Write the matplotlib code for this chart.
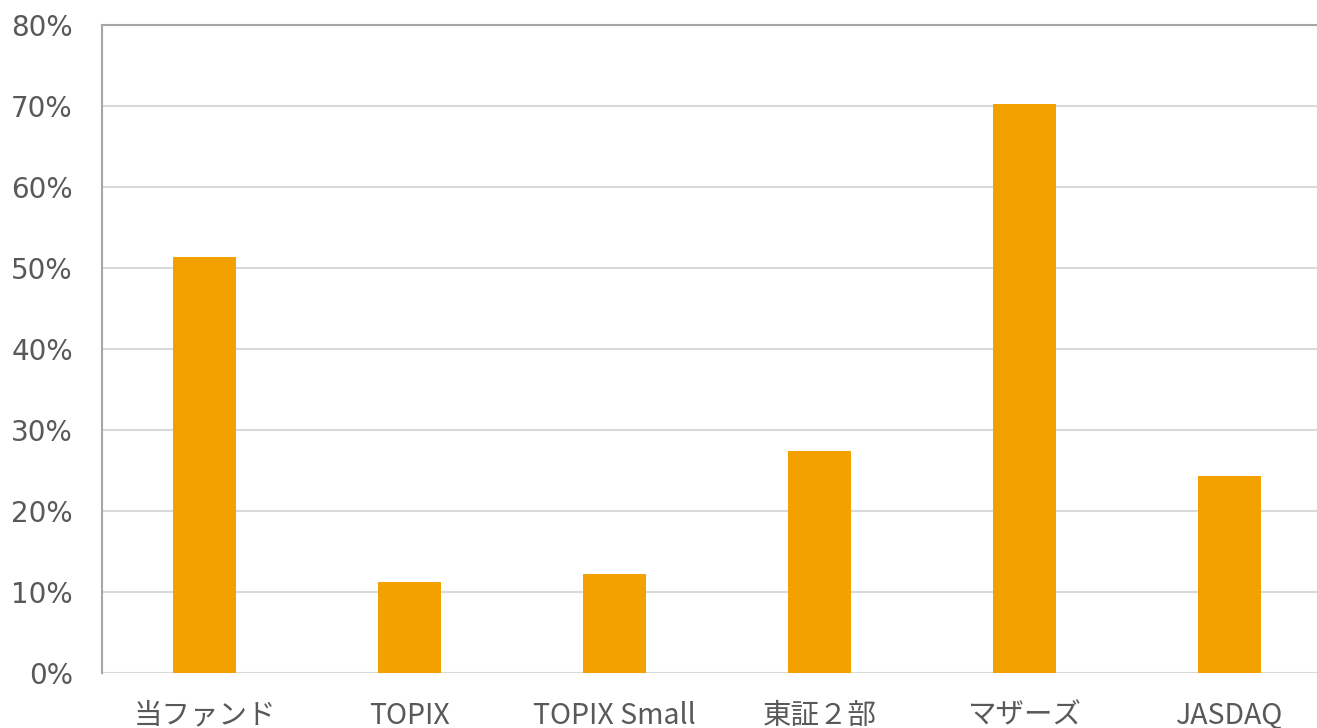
import matplotlib
matplotlib.use("Agg")
import matplotlib.pyplot as plt
from matplotlib.ticker import FuncFormatter, MultipleLocator

plt.rcParams["font.family"] = ["DejaVu Sans"]

categories = ["当ファンド", "TOPIX", "TOPIX Small", "東証２部", "マザーズ", "JASDAQ"]
values = [51.4, 11.2, 12.2, 27.4, 70.2, 24.3]

W, H = 1317, 728
fig = plt.figure(figsize=(W / 100, H / 100), dpi=100)
left, right, top, bottom = 102, 1332, 25, 673
ax = fig.add_axes([left / W, 1 - bottom / H, (right - left) / W, (bottom - top) / H])

ax.bar(range(len(categories)), values, width=0.31, color="#F2A100", zorder=3)
ax.set_xlim(-0.5, len(categories) - 0.5)
ax.set_ylim(0, 80)
ax.yaxis.set_major_locator(MultipleLocator(10))
ax.yaxis.set_major_formatter(FuncFormatter(lambda v, p: f"{v:.0f}%"))
ax.grid(axis="y", color="#D9D9D9", linewidth=1.5, zorder=0)
for s in ["right", "bottom"]:
    ax.spines[s].set_visible(False)
for s in ["left", "top"]:
    ax.spines[s].set_color("#A6A6A6")
    ax.spines[s].set_linewidth(1.5)
ax.tick_params(axis="y", length=0, pad=21, labelsize=20, labelcolor="#595959",
               labelfontfamily="DejaVu Sans")
ax.tick_params(axis="x", length=0, pad=20)
ax.set_xticks(range(len(categories)))
ax.set_xticklabels(categories, fontsize=20.5, color="#595959",
                   family=["Noto Sans CJK JP", "DejaVu Sans"])

fig.savefig("out.png", dpi=100)
